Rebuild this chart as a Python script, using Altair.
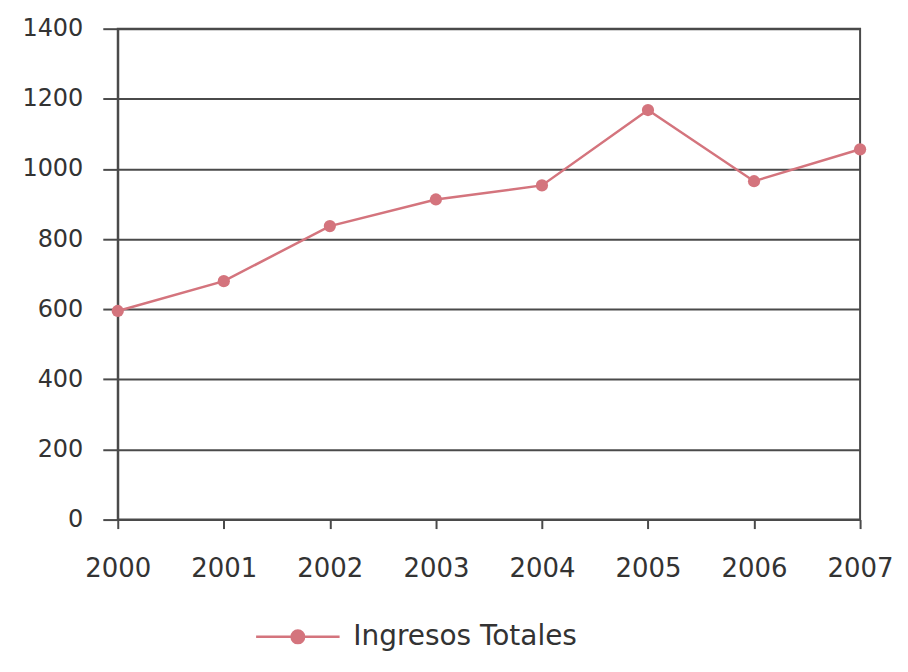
import altair as alt
import pandas as pd

years = [2000, 2001, 2002, 2003, 2004, 2005, 2006, 2007]
ingresos = [595, 680, 837, 913, 953, 1168, 965, 1056]
serie = "Ingresos Totales"

df = pd.DataFrame({"Año": years, "Valor": ingresos, "Serie": [serie] * len(years)})

LINE = "#d4747d"
GRID = "#4a4a4a"
FONT = "DejaVu Sans"

legend_symbol = "M-1,0 L-0.15,0 A0.15,0.15 0 1,1 0.15,0 L1,0 M0.15,0 A0.15,0.15 0 1,1 -0.15,0"

chart = alt.Chart(df).mark_line(
    strokeWidth=2.5,
    point=alt.OverlayMarkDef(filled=True, size=150, color=LINE, opacity=1),
).encode(
    x=alt.X("Año:Q",
            scale=alt.Scale(domain=[2000, 2007], nice=False, zero=False),
            axis=alt.Axis(values=years, format="d", title=None, grid=False,
                          labelFlush=False, labelBound=False, labelOverlap=False,
                          labelFontSize=26, labelColor="#333", labelPadding=27,
                          tickSize=9, tickColor=GRID, tickWidth=2,
                          domainColor=GRID, domainWidth=2, labelFont=FONT)),
    y=alt.Y("Valor:Q",
            scale=alt.Scale(domain=[0, 1400], nice=False),
            axis=alt.Axis(values=[0, 200, 400, 600, 800, 1000, 1200, 1400],
                          format="d",
                          title=None, grid=True, gridColor=GRID, gridWidth=2,
                          gridOpacity=1, labelFontSize=24, labelColor="#333",
                          labelPadding=20, tickSize=15, tickColor=GRID, tickWidth=2,
                          domainColor=GRID, domainWidth=2, labelFont=FONT)),
    color=alt.Color("Serie:N",
                    scale=alt.Scale(range=[LINE]),
                    legend=alt.Legend(title=None, orient="none",
                                      legendX=137, legendY=566,
                                      symbolType=legend_symbol,
                                      symbolSize=7000,
                                      symbolStrokeWidth=2.5,
                                      symbolFillColor=LINE,
                                      symbolStrokeColor=LINE,
                                      labelFontSize=28, labelColor="#333",
                                      labelLimit=500,
                                      labelFont=FONT, labelOffset=12)),
).properties(
    width=744,
    height=492,
    autosize=alt.AutoSizeParams(type="none"),
    padding={"left": 110, "top": 20, "right": 40, "bottom": 140},
).configure(
    background="white",
    view=alt.ViewConfig(stroke=GRID, strokeWidth=2),
)

chart.save("out.html", embed_options={"renderer": "svg", "actions": False})
